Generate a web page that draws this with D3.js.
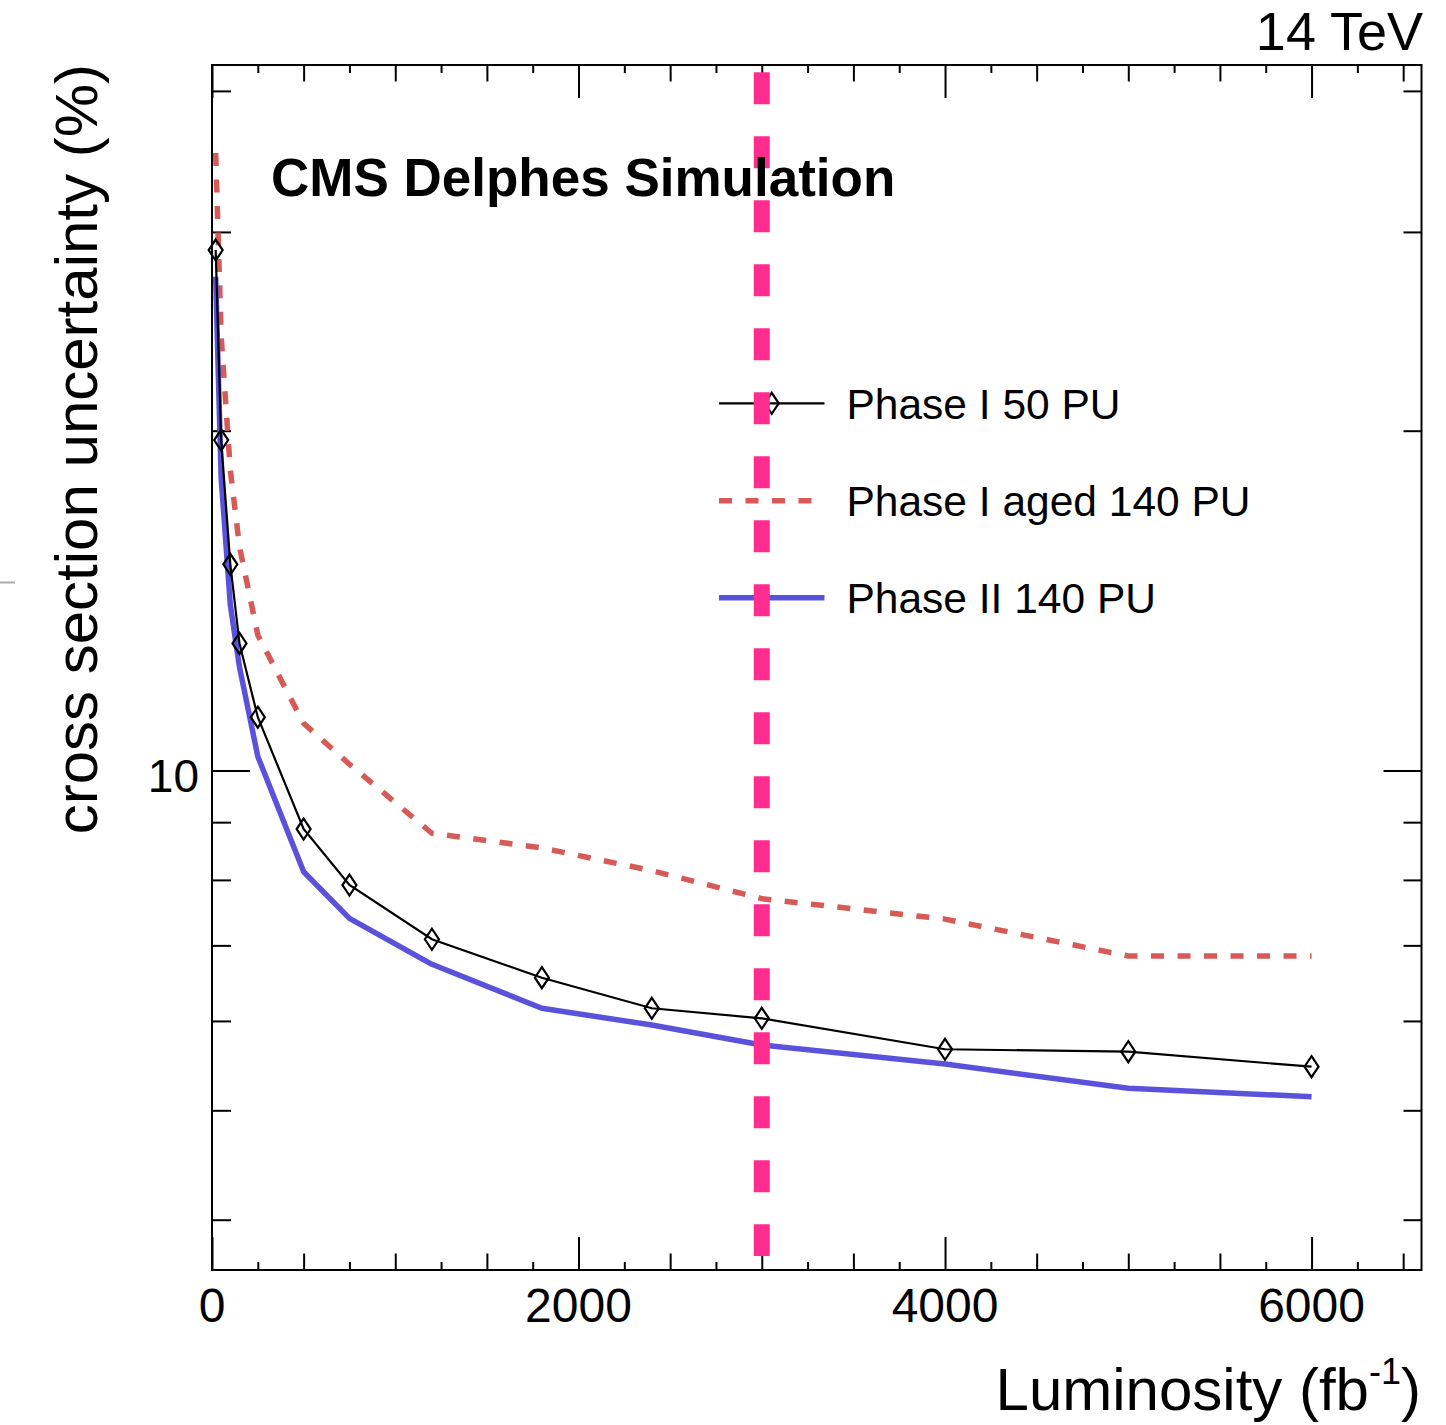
<!DOCTYPE html>
<html><head><meta charset="utf-8">
<script src="https://cdn.jsdelivr.net/npm/d3@7"></script>
<style>
body{margin:0;background:#fff}
svg{display:block}
text{font-family:"Liberation Sans", Arial, Helvetica, sans-serif; fill:#000}
</style>
</head><body>
<svg id="c" width="1446" height="1425"></svg>
<script>
// ---- data ----
const luminosity = [20, 50, 100, 150, 250, 500, 750, 1200, 1800, 2400, 3000, 4000, 5000, 6000];
const phaseI50PU = [28.91, 19.62, 15.23, 12.96, 11.15, 8.875, 7.917, 7.088, 6.553, 6.157, 6.032, 5.663, 5.635, 5.465];
const phaseIAged140PU = [35.24, 24.23, 18.46, 15.79, 13.18, 11.01, 10.13, 8.799, 8.54, 8.153, 7.70, 7.385, 6.85, 6.85];
const phaseII140PU = [27.38, 18.16, 14.02, 12.35, 10.29, 8.135, 7.396, 6.735, 6.157, 5.95, 5.712, 5.495, 5.23, 5.14];
const seriesNames = ["Phase I 50 PU", "Phase I aged 140 PU", "Phase II 140 PU"];
const xTickLabels = [0, 2000, 4000, 6000];
const xMediumTicks = [500, 1000, 1500, 2500, 3000, 3500, 4500, 5000, 5500, 6500];
const xMinorTicks = [250, 750, 1250, 1750, 2250, 2750, 3250, 3750, 4250, 4750, 5250, 5750, 6250];
const yTickLabels = [10];
const yMinorTicks = [4, 5, 6, 7, 8, 9, 20, 30, 40];
const referenceLumi = 3000;
const referenceLumiRange = [3.715, 41.56];

// ---- layout ----
const L = 212, R = 1421.5, T = 65, B = 1270;
const svg = d3.select("#c");

const x = d3.scaleLinear().domain([0, 6600]).range([L, R]);
const y = d3.scaleLog().domain([3.61, 42.17]).range([B, T]);

const red = "#d65a55", blue = "#5b52db", pink = "#ff2e8e";

function tickAxis(axisFn, scale, vals, size, tx, ty) {
  const g = svg.append("g").attr("transform", `translate(${tx},${ty})`)
    .call(axisFn(scale).tickValues(vals).tickSize(size).tickFormat(""));
  g.select(".domain").remove();
  g.selectAll(".tick line").attr("stroke", "#000").attr("stroke-width", 2);
  return g;
}
tickAxis(d3.axisBottom, x, xTickLabels, -33, 0, B);
tickAxis(d3.axisBottom, x, xMediumTicks, -16.5, 0, B);
tickAxis(d3.axisBottom, x, xMinorTicks, -8, 0, B);
tickAxis(d3.axisTop, x, xTickLabels, -33, 0, T);
tickAxis(d3.axisTop, x, xMediumTicks, -16.5, 0, T);
tickAxis(d3.axisTop, x, xMinorTicks, -8, 0, T);
tickAxis(d3.axisLeft, y, yTickLabels, -38, L, 0);
tickAxis(d3.axisLeft, y, yMinorTicks, -19, L, 0);
tickAxis(d3.axisRight, y, yTickLabels, -38, R, 0);
tickAxis(d3.axisRight, y, yMinorTicks, -18, R, 0);

svg.append("rect").attr("x", L).attr("y", T).attr("width", R - L).attr("height", B - T)
  .attr("fill", "none").attr("stroke", "#000").attr("stroke-width", 2);

svg.selectAll("text.xl").data(xTickLabels).join("text").attr("class", "xl")
  .attr("x", d => x(d)).attr("y", 1322).attr("text-anchor", "middle")
  .attr("font-size", 48).text(d => d);
svg.selectAll("text.yl").data(yTickLabels).join("text").attr("class", "yl")
  .attr("x", 199).attr("y", d => y(d) + 21).attr("text-anchor", "end")
  .attr("font-size", 46).text(d => d);

const line = d3.line().x(d => x(d[0])).y(d => y(d[1]));
const zip = arr => luminosity.map((l, i) => [l, arr[i]]);

svg.append("path").datum(zip(phaseIAged140PU)).attr("d", line)
  .attr("fill", "none").attr("stroke", red).attr("stroke-width", 5.5)
  .attr("stroke-dasharray", "13,13.5");
svg.append("path").datum(zip(phaseII140PU)).attr("d", line)
  .attr("fill", "none").attr("stroke", blue).attr("stroke-width", 5.5)
  .attr("stroke-linejoin", "round");
svg.append("path").datum(zip(phaseI50PU)).attr("d", line)
  .attr("fill", "none").attr("stroke", "#000").attr("stroke-width", 2.2);

const diamond = "M0,-10.5L7,0L0,10.5L-7,0Z";
svg.selectAll("path.mk").data(zip(phaseI50PU)).join("path").attr("class", "mk")
  .attr("d", diamond).attr("transform", d => `translate(${x(d[0])},${y(d[1])})`)
  .attr("fill", "none").attr("stroke", "#000").attr("stroke-width", 2.2);

const legX1 = 719, legX2 = 824.5, legTextX = 846.5;
const legY = [403.3, 500.7, 597.7];
const legStyles = [
  {stroke: "#000", w: 2.2, dash: null, marker: true},
  {stroke: red, w: 5.5, dash: "13,13.5", marker: false},
  {stroke: blue, w: 5.5, dash: null, marker: false}
];
seriesNames.forEach((name, i) => {
  const s = legStyles[i];
  const ln = svg.append("line").attr("x1", legX1).attr("x2", legX2)
    .attr("y1", legY[i]).attr("y2", legY[i])
    .attr("stroke", s.stroke).attr("stroke-width", s.w);
  if (s.dash) ln.attr("stroke-dasharray", s.dash);
  if (s.marker) svg.append("path").attr("d", diamond)
    .attr("transform", `translate(${(legX1 + legX2) / 2},${legY[i]})`)
    .attr("fill", "none").attr("stroke", "#000").attr("stroke-width", 2.2);
  svg.append("text").attr("x", legTextX).attr("y", legY[i] + 15.5)
    .attr("font-size", 42.5).text(name);
});

svg.append("line")
  .attr("x1", x(referenceLumi)).attr("x2", x(referenceLumi))
  .attr("y1", y(referenceLumiRange[1])).attr("y2", y(referenceLumiRange[0]))
  .attr("stroke", pink).attr("stroke-width", 16).attr("stroke-dasharray", "32,32");

svg.append("text").attr("x", 271).attr("y", 196).attr("font-size", 53)
  .attr("font-weight", "bold").text("CMS Delphes Simulation");
svg.append("text").attr("x", 1423).attr("y", 50).attr("font-size", 54)
  .attr("text-anchor", "end").text("14 TeV");

const xt = svg.append("text").attr("x", 1421).attr("y", 1410).attr("font-size", 60)
  .attr("text-anchor", "end");
xt.append("tspan").text("Luminosity (fb");
xt.append("tspan").attr("font-size", 36).attr("dy", -26).text("-1");
xt.append("tspan").attr("dy", 26).text(")");

svg.append("text").attr("transform", "translate(97,64) rotate(-90)")
  .attr("text-anchor", "end").attr("font-size", 60)
  .text("cross section uncertainty (%)");

svg.append("line").attr("x1", 0).attr("x2", 15).attr("y1", 582.5).attr("y2", 582.5)
  .attr("stroke", "#aaa").attr("stroke-width", 2);
</script>
</body></html>
